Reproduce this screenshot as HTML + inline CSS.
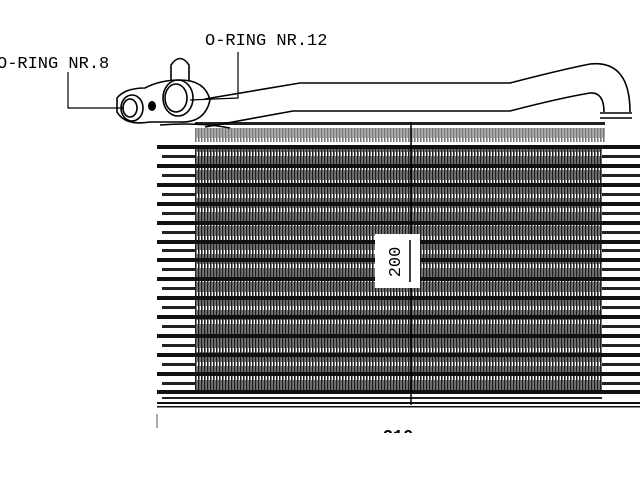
<!DOCTYPE html>
<html><head><style>body{margin:0;background:#fff}svg{display:block}</style></head><body>
<svg width="640" height="480" viewBox="0 0 640 480" xmlns="http://www.w3.org/2000/svg">
<defs>
<pattern id="fin" width="3" height="14" patternUnits="userSpaceOnUse">
<rect width="3" height="14" fill="#fff"/>
<line x1="0.8" y1="0" x2="0.8" y2="14" stroke="#111" stroke-width="1.5"/>
<line x1="2.3" y1="2" x2="2.3" y2="12" stroke="#444" stroke-width="0.9"/>
</pattern>
</defs>
<rect width="640" height="480" fill="#fff"/>
<rect x="195" y="122" width="410" height="3" fill="#222"/>
<rect x="195" y="128" width="410" height="14" fill="url(#fin)" opacity="0.6"/>
<g fill="#111">
<rect x="157" y="145" width="483" height="4"/>
<rect x="157" y="164" width="483" height="4"/>
<rect x="157" y="183" width="483" height="4"/>
<rect x="157" y="202" width="483" height="4"/>
<rect x="157" y="221" width="483" height="4"/>
<rect x="157" y="240" width="483" height="4"/>
<rect x="157" y="258" width="483" height="4"/>
<rect x="157" y="277" width="483" height="4"/>
<rect x="157" y="296" width="483" height="4"/>
<rect x="157" y="315" width="483" height="4"/>
<rect x="157" y="334" width="483" height="4"/>
<rect x="157" y="353" width="483" height="4"/>
<rect x="157" y="372" width="483" height="4"/>
<rect x="157" y="390" width="483" height="4"/>
<rect x="157" y="402" width="483" height="2"/>
<rect x="157" y="406" width="483" height="1.5"/>
</g>
<g fill="url(#fin)">
<rect x="195" y="149" width="407" height="15"/>
<rect x="195" y="168" width="407" height="15"/>
<rect x="195" y="187" width="407" height="15"/>
<rect x="195" y="206" width="407" height="15"/>
<rect x="195" y="225" width="407" height="15"/>
<rect x="195" y="244" width="407" height="14"/>
<rect x="195" y="262" width="407" height="15"/>
<rect x="195" y="281" width="407" height="15"/>
<rect x="195" y="300" width="407" height="15"/>
<rect x="195" y="319" width="407" height="15"/>
<rect x="195" y="338" width="407" height="15"/>
<rect x="195" y="357" width="407" height="15"/>
<rect x="195" y="376" width="407" height="14"/>
</g>
<g fill="#222">
<rect x="162" y="155" width="33" height="3"/><rect x="602" y="155" width="38" height="3"/>
<rect x="162" y="174" width="33" height="3"/><rect x="602" y="174" width="38" height="3"/>
<rect x="162" y="193" width="33" height="3"/><rect x="602" y="193" width="38" height="3"/>
<rect x="162" y="212" width="33" height="3"/><rect x="602" y="212" width="38" height="3"/>
<rect x="162" y="231" width="33" height="3"/><rect x="602" y="231" width="38" height="3"/>
<rect x="162" y="249" width="33" height="3"/><rect x="602" y="249" width="38" height="3"/>
<rect x="162" y="268" width="33" height="3"/><rect x="602" y="268" width="38" height="3"/>
<rect x="162" y="287" width="33" height="3"/><rect x="602" y="287" width="38" height="3"/>
<rect x="162" y="306" width="33" height="3"/><rect x="602" y="306" width="38" height="3"/>
<rect x="162" y="325" width="33" height="3"/><rect x="602" y="325" width="38" height="3"/>
<rect x="162" y="344" width="33" height="3"/><rect x="602" y="344" width="38" height="3"/>
<rect x="162" y="363" width="33" height="3"/><rect x="602" y="363" width="38" height="3"/>
<rect x="162" y="382" width="33" height="3"/><rect x="602" y="382" width="38" height="3"/>
<rect x="162" y="397" width="440" height="2"/>
</g>
<line x1="411" y1="122" x2="411" y2="405" stroke="#000" stroke-width="1.5"/>
<rect x="375" y="234" width="45" height="54" fill="#fff"/>
<line x1="410" y1="240" x2="410" y2="282" stroke="#000" stroke-width="1.5"/>
<text transform="translate(400,262) rotate(-90)" text-anchor="middle" font-family="Liberation Mono, monospace" font-size="17" fill="#000">200</text>
<line x1="157" y1="414" x2="157" y2="428" stroke="#555" stroke-width="1"/>
<text x="398" y="441" text-anchor="middle" font-family="Liberation Mono, monospace" font-size="17" font-weight="bold" fill="#000">210</text>
<rect x="300" y="433" width="200" height="30" fill="#fff"/>
<g fill="none" stroke="#000" stroke-width="1.6">
<path d="M205,99 L300,83 L510,83 Q560,70 590,64 Q630,60 630,112"/>
<path d="M205,127 L293,111 L510,111 Q560,98 590,93 Q604,92 604,112"/>
<path d="M600,113 L632,113 M600,118 L632,118"/>
<path d="M160,125 Q200,122 230,128"/>
<path d="M117,98 Q125,88 145,88 Q160,80 180,80 Q205,80 210,100 Q205,123 180,122 L150,122 Q125,126 117,112 Z"/>
<path d="M171,81 L171,65 Q180,52 189,65 L189,81"/>
<ellipse cx="132" cy="108" rx="11" ry="13"/>
<ellipse cx="130" cy="108" rx="7" ry="9"/>
<ellipse cx="178" cy="98" rx="15" ry="18"/>
<ellipse cx="176" cy="98" rx="11" ry="14"/>
</g>
<ellipse cx="152" cy="106" rx="4" ry="5" fill="#000"/>
<g fill="none" stroke="#000" stroke-width="1.2">
<path d="M68,72 L68,108 L124,108"/>
<path d="M238,52 L238,98 L190,100"/>
</g>
<text x="-3" y="68" font-family="Liberation Mono, monospace" font-size="17" fill="#000">O-RING NR.8</text>
<text x="205" y="45" font-family="Liberation Mono, monospace" font-size="17" fill="#000">O-RING NR.12</text>
</svg>
</body></html>
